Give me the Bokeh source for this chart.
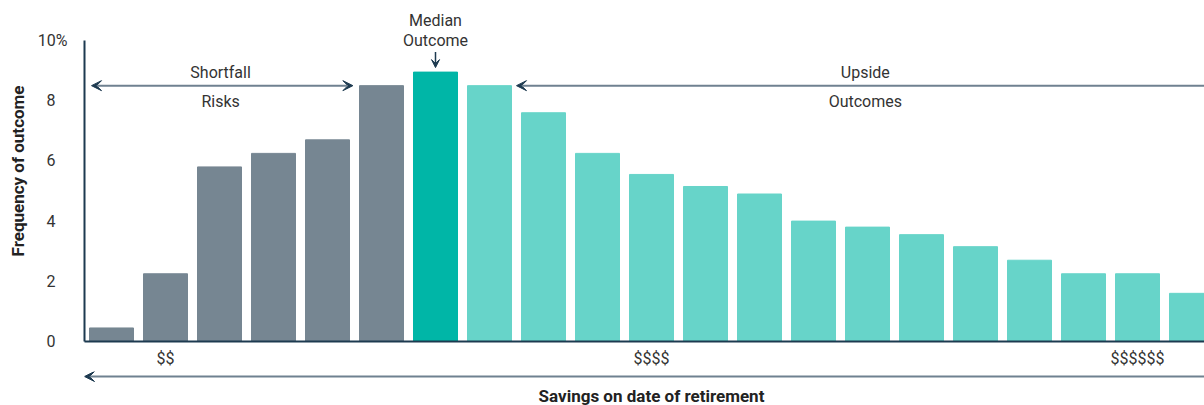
from bokeh.plotting import figure
from bokeh.models import Range1d, FixedTicker, Label, Arrow, VeeHead, ColumnDataSource, PlainText
from bokeh.layouts import column
from bokeh.embed import file_html
from bokeh.resources import INLINE

# ---- data ----
bins = list(range(21))
frequency = [0.45, 2.25, 5.8, 6.25, 6.7, 8.5, 8.95, 8.5, 7.6, 6.25, 5.55,
             5.15, 4.9, 4.0, 3.8, 3.55, 3.15, 2.7, 2.25, 2.25, 1.6]
groups = ["shortfall"] * 6 + ["median"] + ["upside"] * 14
x_tick_bins = [1, 10, 19]
x_tick_labels = ["$$", "$$$$", "$$$$$$"]
y_ticks = [0, 2, 4, 6, 8, 10]
y_tick_labels = ["0", "2", "4", "6", "8", "10%"]

FONT = "Roboto"
TXT = "#333333"
NAVY = "#1d3a50"
ARROW_LINE = "#6f8190"
palette = {"shortfall": "#768692", "median": "#00b6a7", "upside": "#67d4c9"}

PX = 54.0     # px per bin
PY = 30.1     # px per percent
W = 1204
ML = 84
FRAME_H = 341
MB = 30
H1 = FRAME_H + MB
H2 = 405 - H1
frame_w = W - ML

src = ColumnDataSource(dict(x=bins, top=frequency,
                            color=[palette[g] for g in groups]))

xr = Range1d(-0.5, -0.5 + frame_w / PX)
p = figure(width=W, height=H1, output_backend="svg", toolbar_location=None,
           x_range=xr, y_range=Range1d(0, FRAME_H / PY),
           min_border_left=ML, min_border_right=0, min_border_top=0,
           min_border_bottom=MB)
p.outline_line_color = None
p.xgrid.visible = False
p.ygrid.visible = False

p.vbar(x="x", top="top", width=44 / PX, color="color", source=src)

# y axis (the "%" of the top label hangs to the right of the number column)
NB = "\u00a0\u00a0\u00a0"
ya = p.yaxis[0]
ya.ticker = FixedTicker(ticks=y_ticks)
ya.bounds = (0, 10)
ya.major_label_overrides = {t: (s if s.endswith("%") else s + NB)
                            for t, s in zip(y_ticks, y_tick_labels)}
ya.major_tick_line_color = None
ya.minor_tick_line_color = None
ya.axis_line_color = NAVY
ya.axis_line_width = 2
ya.major_label_standoff = 11
ya.major_label_text_font = FONT
ya.major_label_text_font_size = "16px"
ya.major_label_text_color = TXT
ya.axis_label = "Frequency of outcome"
ya.axis_label_text_font = FONT
ya.axis_label_text_font_style = "bold"
ya.axis_label_text_font_size = "17px"
ya.axis_label_text_color = "#222222"
ya.axis_label_standoff = 7

# x axis
xa = p.xaxis[0]
xa.ticker = FixedTicker(ticks=x_tick_bins)
xa.major_label_overrides = {b: PlainText(text=t) for b, t in zip(x_tick_bins, x_tick_labels)}
xa.major_tick_line_color = None
xa.minor_tick_line_color = None
xa.axis_line_color = NAVY
xa.axis_line_width = 2
xa.major_label_standoff = 1
xa.major_label_text_font = FONT
xa.major_label_text_font_size = "16px"
xa.major_label_text_color = TXT


def lab(fig, x, y, t, size="16px", style="normal", color=TXT):
    fig.add_layout(Label(x=x, y=y, text=t, text_font=FONT, text_font_size=size,
                         text_font_style=style, text_color=color,
                         text_align="center", text_baseline="middle"))


def head(size=10):
    return VeeHead(size=size, fill_color=NAVY, line_color=NAVY)


median_i = groups.index("median")
arrow_y = frequency[5]

# Shortfall risks
p.add_layout(Arrow(start=head(), end=head(), x_start=-0.37, x_end=4.47,
                   y_start=arrow_y, y_end=arrow_y,
                   line_color=ARROW_LINE, line_width=2))
lab(p, 2.02, 8.94, "Shortfall")
lab(p, 2.02, 7.97, "Risks")

# Upside outcomes
p.add_layout(Arrow(end=head(), x_start=25, x_end=7.5,
                   y_start=arrow_y, y_end=arrow_y,
                   line_color=ARROW_LINE, line_width=2))
lab(p, 13.96, 8.94, "Upside")
lab(p, 13.96, 7.97, "Outcomes")

# Median
lab(p, median_i, 10.66, "Median")
lab(p, median_i, 10.0, "Outcome")
p.add_layout(Arrow(end=head(8), x_start=median_i, x_end=median_i,
                   y_start=9.62, y_end=9.1, line_color=NAVY, line_width=1.5))

# ---- bottom strip: savings arrow + axis title ----
p2 = figure(width=W, height=H2, output_backend="svg", toolbar_location=None,
            x_range=xr, y_range=Range1d(H2, 0),
            x_axis_location=None, y_axis_location=None,
            min_border_left=ML, min_border_right=0, min_border_top=0,
            min_border_bottom=0)
p2.outline_line_color = None
p2.grid.visible = False
p2.add_layout(Arrow(end=head(), x_start=25, x_end=-0.5, y_start=5, y_end=5,
                    line_color=ARROW_LINE, line_width=2))
lab(p2, 10, 24, "Savings on date of retirement", size="17px", style="bold",
    color="#222222")

layout = column(p, p2, spacing=0)
open("out.html", "w").write(file_html(layout, INLINE))
